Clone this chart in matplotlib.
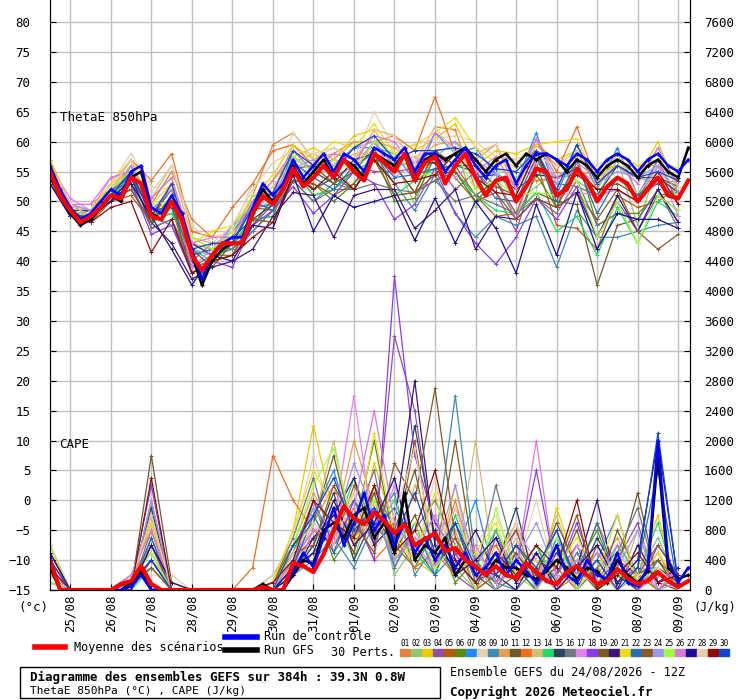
import numpy as np
import matplotlib.pyplot as plt

plt.rcParams['font.family'] = ['DejaVu Sans Mono']

# 6-hourly time axis, hours from 24/08 12Z
hours = np.arange(0, 384, 6)
hours12 = hours[::2]
day_labels = ['25/08', '26/08', '27/08', '28/08', '29/08', '30/08', '31/08', '01/09',
              '02/09', '03/09', '04/09', '05/09', '06/09', '07/09', '08/09', '09/09']

theta_mean = [55, 51, 48.5, 46.5, 47.5, 49, 51, 50.5, 54, 53, 47.5, 47, 50, 47, 41, 38.5,
              41, 43, 43, 43, 48, 51, 49.5, 52, 55.5, 52.5, 54, 56, 54, 57, 55, 53.5,
              58, 56.5, 55, 58, 53.5, 56.5, 57.5, 53, 56, 58, 54, 51, 53.5, 54, 50, 52.5,
              55.5, 55, 51, 52, 55.5, 53.5, 50, 52.5, 54, 53, 50, 52, 54, 51, 50.5, 53.5]
theta_ctrl = [56, 52, 49, 47, 48, 50, 52, 51, 55, 56, 49, 48, 51, 48, 42, 37, 41, 43, 44, 44,
              49, 53, 51, 53, 57, 54, 56, 58, 55, 58, 57, 55, 59, 58, 57, 59, 55, 58, 58, 55,
              57, 59, 56, 54, 56, 57, 53, 56, 58, 58, 57, 56, 58, 57, 55, 57, 58, 57, 55, 57,
              58, 56, 55, 57]
theta_gfs = [54, 51, 48, 46, 47, 49, 51, 50, 54, 55, 48, 47, 50, 48, 41, 36, 40, 42, 43, 43,
             48, 52, 50, 52, 56, 53, 55, 57, 54, 57, 56, 54, 58, 57, 56, 58, 54, 57, 58, 57,
             58, 59, 57, 55, 57, 58, 56, 58, 57, 58, 57, 55, 57, 56, 54, 56, 57, 56, 54, 56,
             57, 55, 54, 59]

cape_mean = [400, 0, 0, 0, 0, 0, 0, 80, 120, 320, 80, 0, 0, 0, 0, 0, 0, 0, 0, 0, 0, 40, 0, 0,
             360, 320, 240, 480, 800, 1120, 960, 880, 1040, 920, 760, 880, 600, 680, 760, 520,
             560, 400, 320, 200, 320, 200, 160, 360, 240, 120, 80, 240, 320, 200, 80, 120,
             280, 160, 80, 120, 240, 120, 40, 120]
cape_ctrl = [450, 0, 0, 0, 0, 0, 0, 0, 50, 200, 0, 0, 0, 0, 0, 0, 0, 0, 0, 0, 0, 50, 0, 0,
             250, 500, 300, 700, 1100, 600, 900, 1300, 800, 1000, 600, 900, 500, 700, 400, 600,
             300, 500, 200, 300, 500, 200, 400, 250, 100, 300, 600, 200, 100, 400, 200, 150,
             500, 100, 50, 300, 2000, 400, 100, 300]
cape_gfs = [300, 0, 0, 0, 0, 0, 0, 0, 100, 250, 0, 0, 0, 0, 0, 0, 0, 0, 0, 0, 0, 80, 0, 0,
            200, 400, 350, 800, 900, 700, 1000, 1100, 700, 900, 500, 1300, 400, 600, 500, 700,
            200, 400, 300, 200, 400, 300, 300, 200, 150, 250, 400, 300, 150, 300, 250, 100,
            400, 200, 100, 250, 1800, 300, 150, 200]

# 30 perturbations, 12-hourly: ThetaE deviation from the mean (°C)
theta_dev = [
    [1, 0, -1, 0, 1, 2, 5, 6, 3, 1, 3, 10, 6, 3, 4, 5, 2, 6, 3, 5, 6, -2, 4, 7, -2, 3, -1, 5, 2, 4, -1, 3],
    [-1, 1, 0, 1, -1, 0, -2, 1, 0, -1, 0, 1, -2, 0, 2, -3, -1, 2, -4, 1, 3, -5, 2, 0, -3, 4, -2, 1, 3, -4, 2, 0],
    [2, 0, 1, 2, 3, 1, 0, 3, 1, 2, 1, 4, 2, 5, 3, 6, 4, 2, 5, 3, 7, 2, 5, 8, 4, 6, 3, 5, 2, 4, 6, 1],
    [0, -1, 1, 0, 1, -2, -3, -1, 2, -1, -2, 0, 1, -2, 0, 1, -3, 0, 2, -1, -4, 1, -2, -5, 0, 2, -3, 1, -2, 0, 3, -1],
    [-2, 0, -1, -1, -3, -1, 3, 2, 0, -2, -1, -2, 0, -3, -2, 0, 1, -4, -2, 1, 0, -3, -6, -2, 1, -5, -10, -8, -3, -1, -4, 2],
    [1, -1, 0, -1, 2, 0, -1, -3, -1, 0, -1, -3, -2, -1, -4, -2, 0, -5, -3, 0, -2, -4, 0, -3, -1, -2, 2, -4, -6, -2, -3, 1],
    [0, 1, 1, 1, 0, 1, 2, 0, 1, 2, 1, 0, 3, 1, 2, 4, 1, 3, 0, 4, 2, 5, 1, 3, 6, 0, 4, 2, 5, 1, 3, 2],
    [-1, 0, 0, 2, 4, 5, 2, 4, 3, 2, 5, 4, 6, 3, 5, 2, 7, 4, 6, 3, 5, 6, 4, 7, 3, 5, 2, 6, 4, 3, 5, 2],
    [0, -1, 0, -1, 1, 0, -4, -2, 0, -1, -3, -1, -2, -4, -1, -3, 0, -2, -5, -3, -8, -10, -6, -4, -8, -12, -7, -6, -10, -5, -8, -4],
    [1, 1, 2, 1, 2, 3, 4, 2, 1, 2, 3, 2, 4, 2, 3, 5, 2, 4, 3, 2, 4, 3, 6, 2, 4, 5, 3, 2, 4, 6, 2, 3],
    [-2, -1, -1, 0, -2, -1, 1, -2, -1, 0, -2, 1, -1, -2, 0, -3, -1, 1, -2, -4, -1, -3, 0, -2, -4, -1, -6, -14, -8, -3, -2, -4],
    [2, 1, 0, 1, 3, 6, 8, 4, 3, 6, 5, 9, 4, 2, 3, 1, 4, 6, 5, 10, 2, 4, 6, 3, 5, 4, 7, 3, 2, 5, 3, 2],
    [1, 0, 1, 0, 2, 3, 6, 3, 2, 1, 2, 3, 1, 4, 2, 3, 0, 2, 4, 1, 3, 0, 2, 4, 1, 3, 0, 2, 4, 1, 2, 0],
    [-1, 0, -1, 0, 0, -1, -2, 1, -1, 0, -1, -2, 0, -3, -2, 0, -1, -4, 0, -2, -1, -3, -5, -2, -4, -6, -8, -9, -5, -7, -4, -3],
    [0, 0, 1, -1, 0, 1, -1, 2, 0, 1, -1, 0, 2, 1, -1, 2, 0, 1, 3, -1, 2, 0, 1, 2, -1, 3, 0, 1, 2, 4, 0, 1],
    [-1, -1, 0, 0, -1, -2, -3, -2, -1, -2, -3, -1, -2, -4, -2, -3, -5, -3, -2, -4, -6, -3, -4, -2, -5, -3, -2, -4, -6, -3, -2, -5],
    [1, 2, 1, 3, 1, 0, 2, -2, 1, 3, 0, 2, 1, 0, 3, 1, 2, -1, 3, 1, -2, 3, 1, -3, 2, 0, -4, 1, -2, 0, 2, -3],
    [0, 1, 0, 1, -1, -3, -4, -3, -1, -4, -2, -1, -3, -6, -3, 0, -5, -8, -4, -2, -8, -11, -14, -6, -5, -4, -3, -6, -4, -5, -3, -2],
    [-1, 0, -1, 0, 1, 0, 2, 1, -2, 0, 1, -1, 0, 2, -1, 0, 2, 1, -2, 1, 0, 2, -1, 1, 3, -2, 0, 2, -1, 1, 0, 2],
    [1, 0, 0, -1, 0, -1, -7, -4, -2, -3, -6, -2, -4, -3, -10, -4, -6, -3, -8, -9, -4, -12, -6, -3, -5, -2, -4, -6, -3, -5, -2, -4],
    [2, 1, 1, 2, 1, 2, 3, 2, 4, 3, 2, 5, 4, 3, 6, 4, 5, 3, 6, 4, 8, 5, 3, 6, 4, 9, 5, 3, 4, 6, 3, 5],
    [0, 0, -1, 1, 0, 1, -1, 0, 1, 0, 2, -1, 1, 0, -2, 1, 0, -1, 1, -2, 0, 1, -3, 0, 2, -1, 1, -2, 0, 1, -1, 0],
    [-1, -1, 0, -1, -2, -1, 0, -3, -1, -2, -1, -3, -2, -1, -3, -2, -1, -4, -2, -3, -1, -4, -2, -3, -5, -2, -4, -3, -2, -5, -12, -6],
    [0, 1, 1, 0, 2, 1, 2, 1, 0, 3, 1, 2, 0, 3, 1, 4, 2, 1, 3, 0, 4, 2, 1, 3, 5, 2, 0, 3, 1, 4, 2, 1],
    [1, 0, 0, 1, 1, 2, 0, 3, 1, 2, 3, 0, 2, 1, 3, 0, 2, 3, 1, -3, 2, -2, 0, 1, -4, 0, -2, -6, -4, -7, -3, -2],
    [0, 1, 2, 3, 1, 3, 4, 2, 3, 1, 2, 4, 3, 1, 4, 2, 3, 5, 2, 4, 3, 1, 4, 2, 5, 3, 1, 4, 2, 3, 5, 2],
    [-2, -1, 0, -1, -1, 0, -8, -5, 0, -3, -2, -4, -1, -9, -3, -6, -8, -4, -10, -7, -13, -4, -8, -12, -6, -10, -4, -8, -6, -3, -7, -5],
    [1, 1, 0, 1, 3, 4, 6, 5, 2, 3, 4, 7, 3, 4, 5, 2, 4, 6, 3, 5, 2, 4, 6, 3, 2, 5, 3, 4, 2, 5, 3, 2],
    [-1, 0, -1, -2, -4, -6, -3, -3, -1, -2, -4, -3, -1, -2, 1, -3, -1, -2, 0, -3, 2, 0, -2, 1, 3, 0, -1, 2, -2, 0, 1, -1],
    [0, -1, 0, 0, 1, 0, 3, 1, 2, 0, 1, 2, 3, 2, 1, 4, 3, 2, 5, 1, 3, 4, 2, 5, 3, 1, 4, 3, 2, 4, 1, 3],
]

# 30 perturbations, 12-hourly: CAPE (x100 J/kg)
cape_pert = [
    [4, 0, 0, 0, 1, 3, 0, 0, 0, 0, 0, 2, 6, 9, 14, 6, 10, 4, 8, 3, 12, 2, 4, 8, 1, 6, 2, 9, 3, 1, 5, 0],
    [2, 0, 0, 0, 0, 6, 0, 0, 0, 0, 0, 0, 3, 6, 11, 4, 13, 2, 6, 10, 3, 0, 2, 6, 0, 4, 1, 3, 0, 2, 7, 1],
    [5, 0, 0, 0, 2, 8, 1, 0, 0, 0, 0, 1, 8, 22, 10, 5, 17, 8, 4, 2, 14, 1, 6, 2, 0, 11, 3, 1, 5, 2, 10, 0],
    [1, 0, 0, 0, 0, 4, 0, 0, 0, 0, 0, 0, 2, 5, 8, 12, 6, 34, 24, 6, 2, 0, 8, 1, 3, 2, 6, 0, 4, 9, 0, 3],
    [3, 0, 0, 0, 1, 10, 0, 0, 0, 0, 0, 0, 4, 8, 6, 14, 9, 5, 20, 3, 7, 0, 2, 5, 1, 3, 0, 6, 2, 0, 4, 1],
    [2, 0, 0, 0, 0, 12, 0, 0, 0, 0, 0, 1, 5, 12, 4, 8, 20, 6, 3, 8, 1, 4, 0, 2, 6, 0, 3, 8, 1, 2, 0, 2],
    [6, 0, 0, 0, 2, 5, 0, 0, 0, 0, 0, 0, 3, 10, 16, 7, 11, 3, 9, 2, 5, 12, 1, 3, 0, 7, 2, 4, 10, 1, 3, 0],
    [3, 0, 0, 0, 1, 2, 2, 0, 0, 0, 0, 2, 7, 18, 9, 13, 5, 10, 4, 15, 2, 6, 10, 3, 12, 1, 5, 2, 0, 6, 2, 4],
    [1, 0, 0, 0, 0, 7, 0, 0, 0, 0, 0, 0, 2, 4, 7, 3, 9, 13, 2, 6, 26, 4, 1, 0, 3, 0, 5, 1, 2, 0, 4, 0],
    [4, 0, 0, 0, 1, 9, 0, 0, 0, 0, 0, 1, 6, 13, 8, 20, 11, 7, 5, 3, 8, 0, 4, 9, 2, 5, 0, 3, 7, 1, 2, 1],
    [2, 0, 0, 0, 0, 18, 1, 0, 0, 0, 0, 0, 4, 7, 10, 5, 14, 8, 16, 4, 9, 2, 0, 5, 1, 2, 8, 0, 3, 13, 1, 0],
    [5, 0, 0, 0, 2, 6, 0, 0, 0, 0, 3, 18, 12, 8, 6, 11, 4, 7, 3, 5, 2, 4, 6, 1, 3, 0, 2, 5, 1, 3, 0, 2],
    [3, 0, 0, 0, 1, 4, 1, 0, 0, 0, 0, 1, 3, 9, 20, 6, 12, 4, 14, 9, 3, 20, 2, 7, 1, 10, 2, 4, 0, 8, 2, 1],
    [1, 0, 0, 0, 0, 3, 0, 0, 0, 0, 0, 0, 5, 11, 7, 15, 8, 12, 5, 2, 10, 3, 8, 2, 6, 1, 4, 0, 6, 2, 9, 0],
    [2, 0, 0, 0, 1, 11, 0, 0, 0, 0, 0, 0, 2, 6, 13, 4, 10, 6, 22, 7, 4, 1, 3, 11, 0, 5, 1, 7, 2, 0, 3, 1],
    [4, 0, 0, 0, 0, 8, 0, 0, 0, 0, 0, 1, 7, 15, 5, 9, 16, 3, 8, 12, 6, 2, 14, 4, 2, 8, 0, 3, 5, 11, 1, 2],
    [3, 0, 0, 0, 2, 5, 0, 0, 0, 0, 0, 0, 4, 8, 9, 26, 7, 14, 6, 3, 11, 5, 2, 8, 4, 0, 6, 2, 1, 4, 0, 3],
    [1, 0, 0, 0, 1, 14, 0, 0, 0, 0, 0, 0, 3, 12, 6, 10, 4, 42, 18, 9, 5, 0, 7, 3, 16, 2, 9, 1, 4, 0, 6, 2],
    [5, 0, 0, 0, 0, 6, 0, 0, 0, 0, 0, 1, 6, 9, 18, 7, 13, 5, 10, 4, 20, 3, 1, 6, 2, 9, 3, 0, 8, 2, 4, 0],
    [2, 0, 0, 0, 1, 4, 0, 0, 0, 0, 0, 0, 2, 7, 10, 15, 6, 9, 28, 6, 3, 8, 2, 0, 5, 1, 3, 12, 0, 6, 1, 3],
    [6, 0, 0, 0, 2, 9, 1, 0, 0, 0, 0, 1, 8, 16, 11, 6, 21, 7, 4, 13, 2, 5, 9, 1, 4, 3, 7, 2, 10, 1, 5, 1],
    [3, 0, 0, 0, 0, 7, 0, 0, 0, 0, 0, 0, 3, 10, 5, 12, 8, 11, 6, 2, 9, 1, 5, 3, 0, 6, 2, 9, 1, 3, 16, 0],
    [2, 0, 0, 0, 1, 3, 0, 0, 0, 0, 0, 0, 5, 6, 14, 9, 5, 17, 12, 27, 7, 2, 4, 8, 1, 3, 10, 0, 4, 2, 6, 2],
    [4, 0, 0, 0, 0, 12, 0, 0, 0, 0, 0, 1, 4, 11, 8, 17, 10, 4, 7, 5, 14, 3, 0, 4, 9, 2, 1, 5, 3, 8, 0, 1],
    [1, 0, 0, 0, 1, 5, 0, 0, 0, 0, 0, 0, 6, 14, 19, 8, 12, 6, 9, 3, 6, 0, 11, 2, 3, 7, 0, 4, 2, 1, 3, 0],
    [3, 0, 0, 0, 2, 8, 0, 0, 0, 0, 0, 1, 2, 8, 7, 11, 24, 9, 5, 10, 3, 6, 1, 3, 20, 1, 4, 2, 6, 0, 2, 2],
    [5, 0, 0, 0, 0, 6, 1, 0, 0, 0, 0, 0, 3, 5, 12, 6, 9, 15, 4, 8, 2, 4, 7, 1, 5, 0, 3, 6, 1, 4, 20, 1],
    [2, 0, 0, 0, 1, 10, 0, 0, 0, 0, 0, 0, 5, 9, 6, 13, 7, 10, 19, 4, 11, 2, 3, 9, 0, 4, 2, 1, 5, 2, 3, 0],
    [3, 0, 0, 0, 0, 15, 0, 0, 0, 0, 0, 1, 4, 12, 9, 7, 14, 5, 8, 16, 4, 1, 5, 2, 6, 3, 12, 0, 2, 5, 1, 2],
    [4, 0, 0, 0, 1, 4, 0, 0, 0, 0, 0, 0, 6, 10, 15, 8, 11, 7, 13, 5, 9, 3, 2, 6, 3, 8, 1, 4, 0, 3, 21, 1],
]

pert_colors = ['#e8823a', '#8cc870', '#f0c800', '#9050a8', '#b85a10', '#5a8a10', '#1e8cff', '#e6d2aa',
               '#3c8cb4', '#e6a050', '#6e5a28', '#f06e1e', '#d2be78', '#1edc64', '#28465a', '#6e7882',
               '#e682f0', '#8c3cf0', '#7d5a28', '#3c1478', '#f0dc14', '#286eb4', '#8c5a28', '#a096f0',
               '#a0ff3c', '#dc78dc', '#1e0a96', '#e6cdaa', '#8c0a0a', '#1446c8']


def cape_to_y(c):
    # right axis: 400 J/kg per 5 °C, 0 J/kg at -15
    return -15 + np.asarray(c, dtype=float) / 80.0


fig = plt.figure(figsize=(7.4, 7.0), dpi=100)
ax = fig.add_axes([50 / 740, 1 - 590 / 700, 640 / 740, 590 / 700])

mean12 = np.array(theta_mean)[::2]
for k in range(30):
    col = pert_colors[k]
    ax.plot(hours12, mean12 + np.array(theta_dev[k]), color=col, lw=0.9, marker='+', ms=3, mew=0.7)
    ax.plot(hours12, cape_to_y(np.array(cape_pert[k]) * 100), color=col, lw=0.9, marker='+', ms=3, mew=0.7)

for series, col in [(theta_gfs, 'black'), (theta_ctrl, '#0000ff')]:
    ax.plot(hours, series, color=col, lw=1.8, marker='+', ms=3)
for series, col in [(cape_gfs, 'black'), (cape_ctrl, '#0000ff')]:
    ax.plot(hours, cape_to_y(series), color=col, lw=1.8, marker='+', ms=3)
ax.plot(hours, theta_mean, color='red', lw=3)
ax.plot(hours, cape_to_y(cape_mean), color='red', lw=3)

ax.set_xlim(0, 379)
ax.set_ylim(-15, 83.7)
day_ticks = 12 + 24 * np.arange(len(day_labels))
ax.set_xticks(day_ticks)
ax.set_xticklabels(day_labels, rotation=90, fontsize=8, va='top')
ax.set_yticks(np.arange(-15, 81, 5))
ax.tick_params(axis='both', direction='in', length=4, labelsize=9)
ax.tick_params(axis='y', pad=14)
ax.grid(color='#c0c0c0', lw=1)
ax.set_axisbelow(True)
ax.spines['top'].set_visible(False)

axr = ax.twinx()
axr.set_ylim(0, (83.7 + 15) * 80)
axr.set_yticks(np.arange(0, 7601, 400))
axr.tick_params(axis='y', direction='in', length=4, labelsize=9, pad=10)
axr.spines['top'].set_visible(False)

ax.text(0.015, 0.795, 'ThetaE 850hPa', transform=ax.transAxes, fontsize=9)
ax.text(0.015, 0.24, 'CAPE', transform=ax.transAxes, fontsize=9)
fig.text(18 / 740, 1 - 607 / 700, '(°c)', fontsize=9, va='center')
fig.text(736 / 740, 1 - 607 / 700, '(J/kg)', fontsize=8.5, va='center', ha='right')

# legend
fig.lines.append(plt.Line2D([35 / 740, 65 / 740], [1 - 647 / 700] * 2, color='red', lw=4, transform=fig.transFigure))
fig.text(74 / 740, 1 - 647 / 700, 'Moyenne des scénarios', fontsize=8.5, va='center')
fig.lines.append(plt.Line2D([225 / 740, 257 / 740], [1 - 637 / 700] * 2, color='#0000ff', lw=4, transform=fig.transFigure))
fig.text(264 / 740, 1 - 637 / 700, 'Run de contrôle', fontsize=8.5, va='center')
fig.lines.append(plt.Line2D([225 / 740, 257 / 740], [1 - 650 / 700] * 2, color='black', lw=4, transform=fig.transFigure))
fig.text(264 / 740, 1 - 650 / 700, 'Run GFS', fontsize=8.5, va='center')
fig.text(395 / 740, 1 - 653 / 700, '30 Perts.', fontsize=8.5, ha='right', va='center')
for k in range(30):
    x0 = 400 + k * 11
    fig.text((x0 + 5) / 740, 1 - 643 / 700, '%02d' % (k + 1), fontsize=5.5, ha='center', va='center')
    fig.patches.append(plt.Rectangle((x0 / 740, 1 - 656 / 700), 10 / 740, 7 / 700,
                                     color=pert_colors[k], transform=fig.transFigure))

fig.patches.append(plt.Rectangle((20 / 740, 1 - 698 / 700), 420 / 740, 31 / 700, fill=False,
                                 ec='black', lw=1, transform=fig.transFigure))
fig.text(30 / 740, 1 - 677 / 700, 'Diagramme des ensembles GEFS sur 384h : 39.3N 0.8W',
         fontsize=9, weight='bold', va='center')
fig.text(30 / 740, 1 - 691 / 700, 'ThetaE 850hPa (°C) , CAPE (J/kg)', fontsize=8, va='center')
fig.text(450 / 740, 1 - 672 / 700, 'Ensemble GEFS du 24/08/2026 - 12Z', fontsize=8.5, va='center')
fig.text(450 / 740, 1 - 692 / 700, 'Copyright 2026 Meteociel.fr', fontsize=9, weight='bold', va='center')

fig.savefig('out.png', dpi=100)
